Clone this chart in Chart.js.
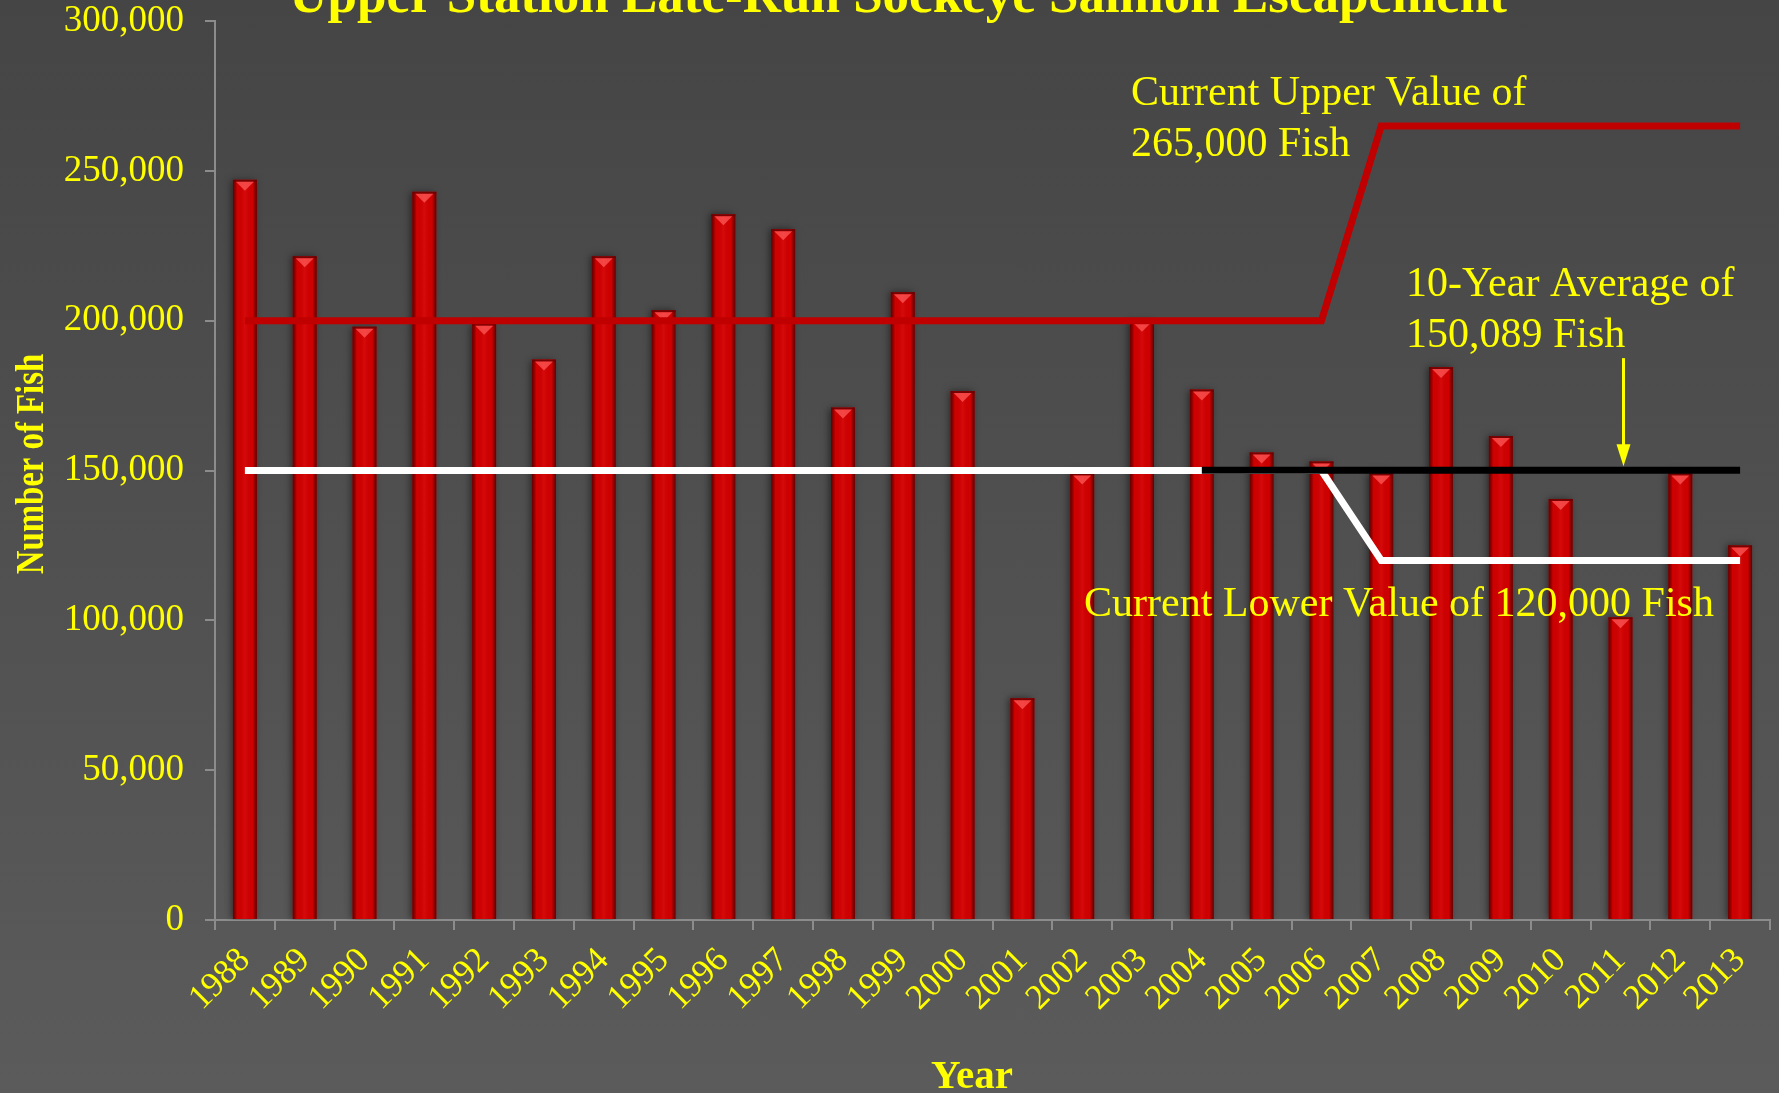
<!DOCTYPE html>
<html>
<head>
<meta charset="utf-8">
<script src="https://cdn.jsdelivr.net/npm/chart.js@4.4.1/dist/chart.umd.min.js"></script>
<style>
  html, body { margin: 0; padding: 0; }
  body { width: 1779px; height: 1093px; overflow: hidden; background: linear-gradient(#454545, #5b5b5b); }
  #wrap { width: 1779px; height: 1093px; }
</style>
</head>
<body>
<div id="wrap"><canvas id="escChart" width="1779" height="1093"></canvas></div>
<script>
  const years = ['1988', '1989', '1990', '1991', '1992', '1993', '1994', '1995', '1996', '1997', '1998', '1999', '2000',
                 '2001', '2002', '2003', '2004', '2005', '2006', '2007', '2008', '2009', '2010', '2011', '2012', '2013'];
  const escapement = [247000, 221500, 198000, 243000, 199000, 187000, 221500, 203500, 235500, 230500, 171000, 209500, 176500,
                      74000, 149000, 200000, 177000, 156000, 153000, 149000, 184500, 161500, 140500, 101000, 149000, 125000];
  const upperGoal = [200000, 200000, 200000, 200000, 200000, 200000, 200000, 200000, 200000, 200000, 200000, 200000, 200000,
                     200000, 200000, 200000, 200000, 200000, 200000, 265000, 265000, 265000, 265000, 265000, 265000, 265000];
  const lowerGoal = [150000, 150000, 150000, 150000, 150000, 150000, 150000, 150000, 150000, 150000, 150000, 150000, 150000,
                     150000, 150000, 150000, 150000, 150000, 150000, 120000, 120000, 120000, 120000, 120000, 120000, 120000];
  const tenYearAvg = [null, null, null, null, null, null, null, null, null, null, null, null, null,
                      null, null, null, 150089, 150089, 150089, 150089, 150089, 150089, 150089, 150089, 150089, 150089];
  const yTicks = [0, 50000, 100000, 150000, 200000, 250000, 300000];

  const yellow = '#ffff00';
  const axisGray = '#8c8c8c';
  const serif = '"Liberation Serif", "Times New Roman", serif';

  // shading + glossy caps on the bars, and all the free text
  const decor = {
    id: 'decor',
    beforeDatasetDraw(chart, args) {
      if (args.meta.type !== 'bar') return;
      const ctx = chart.ctx;
      ctx.save();
      ctx.shadowColor = 'rgba(0,0,0,0.5)';
      ctx.shadowBlur = 7;
      ctx.shadowOffsetX = -2;
    },
    afterDatasetDraw(chart, args) {
      if (args.meta.type !== 'bar') return;
      const ctx = chart.ctx;
      ctx.restore();
      args.meta.data.forEach(el => {
        const p = el.getProps(['x', 'y', 'base', 'width'], true);
        const l = p.x - p.width / 2, r = p.x + p.width / 2;
        const g = ctx.createLinearGradient(l, 0, r, 0);
        g.addColorStop(0, 'rgba(70,0,0,0.75)');
        g.addColorStop(0.18, 'rgba(0,0,0,0)');
        g.addColorStop(0.5, 'rgba(255,80,80,0.12)');
        g.addColorStop(0.82, 'rgba(0,0,0,0)');
        g.addColorStop(1, 'rgba(70,0,0,0.75)');
        ctx.save();
        ctx.fillStyle = g;
        ctx.fillRect(l, p.y, p.width, p.base - p.y);
        ctx.fillStyle = 'rgba(110,0,0,0.9)';
        ctx.fillRect(l, p.y, p.width, 2);
        ctx.beginPath();
        ctx.moveTo(l + 3, p.y + 2);
        ctx.lineTo(r - 3, p.y + 2);
        ctx.lineTo(p.x, p.y + 11);
        ctx.closePath();
        ctx.fillStyle = 'rgba(255,90,90,0.75)';
        ctx.fill();
        ctx.restore();
      });
    },
    afterDraw(chart) {
      const ctx = chart.ctx;
      const xs = chart.scales.x, ys = chart.scales.y;
      ctx.save();
      ctx.fillStyle = yellow;
      ctx.textBaseline = 'alphabetic';

      ctx.font = 'bold 53px ' + serif;
      ctx.textAlign = 'center';
      ctx.fillText('Upper Station Late-Run Sockeye Salmon Escapement', 898, 12);

      ctx.font = 'bold 41px ' + serif;
      ctx.fillText('Year', 972, 1088);

      ctx.save();
      ctx.translate(42.5, 464);
      ctx.rotate(-Math.PI / 2);
      ctx.scale(0.82, 1);
      ctx.font = 'bold 40px ' + serif;
      ctx.fillText('Number of Fish', 0, 0);
      ctx.restore();

      ctx.font = '42px ' + serif;
      ctx.textAlign = 'left';
      ctx.fillText('Current Upper Value of', 1131, 105);
      ctx.fillText('265,000 Fish', 1131, 156);
      ctx.fillText('10-Year Average of', 1406, 296);
      ctx.fillText('150,089 Fish', 1406, 347);
      ctx.fillText('Current Lower Value of 120,000 Fish', 1084, 616);

      // arrow pointing at the average line
      const ax = xs.getPixelForValue(23) + 3;
      const aTop = ys.getPixelForValue(187500);
      const aTip = ys.getPixelForValue(tenYearAvg[25]) - 4;
      ctx.strokeStyle = yellow;
      ctx.lineWidth = 3;
      ctx.beginPath();
      ctx.moveTo(ax, aTop);
      ctx.lineTo(ax, aTip - 18);
      ctx.stroke();
      ctx.beginPath();
      ctx.moveTo(ax - 7, aTip - 22);
      ctx.lineTo(ax + 7, aTip - 22);
      ctx.lineTo(ax, aTip);
      ctx.closePath();
      ctx.fill();
      ctx.restore();
    }
  };

  new Chart(document.getElementById('escChart'), {
    data: {
      labels: years,
      datasets: [
        {
          type: 'line',
          label: 'Current upper goal',
          data: upperGoal,
          borderColor: '#c00000',
          borderWidth: 7,
          pointRadius: 0,
          tension: 0,
          order: 1
        },
        {
          type: 'line',
          label: '10-year average',
          data: tenYearAvg,
          borderColor: '#000000',
          borderWidth: 7,
          pointRadius: 0,
          tension: 0,
          order: 2
        },
        {
          type: 'line',
          label: 'Current lower goal',
          data: lowerGoal,
          borderColor: '#ffffff',
          borderWidth: 7,
          pointRadius: 0,
          tension: 0,
          order: 3
        },
        {
          type: 'bar',
          label: 'Escapement',
          data: escapement,
          backgroundColor: '#d10000',
          borderWidth: 0,
          categoryPercentage: 1,
          barPercentage: 0.4,
          order: 10
        }
      ]
    },
    options: {
      responsive: false,
      animation: false,
      devicePixelRatio: 1,
      layout: { padding: { top: 21, right: 9, left: 0, bottom: 0 } },
      plugins: {
        legend: { display: false },
        tooltip: { enabled: false }
      },
      scales: {
        x: {
          grid: { drawOnChartArea: false, drawTicks: true, tickLength: 10, color: axisGray, lineWidth: 2, offset: true },
          border: { display: true, color: axisGray, width: 2 },
          ticks: {
            color: yellow,
            font: { family: serif, size: 35 },
            minRotation: 45,
            maxRotation: 45,
            autoSkip: false,
            padding: 10
          },
          afterFit: s => {
            s.height = 173;
            s.paddingLeft = 0;
            s.paddingRight = 0;
          }
        },
        y: {
          min: 0,
          max: 300000,
          afterBuildTicks: s => { s.ticks = yTicks.map(v => ({ value: v })); },
          grid: { drawOnChartArea: false, drawTicks: true, tickLength: 10, color: axisGray, lineWidth: 2 },
          border: { display: true, color: axisGray, width: 2 },
          ticks: {
            color: yellow,
            font: { family: serif, size: 37 },
            padding: 21,
            callback: v => v.toLocaleString('en-US')
          },
          afterFit: s => {
            s.width = 215;
            s.paddingTop = 0;
            s.paddingBottom = 0;
          }
        }
      }
    },
    plugins: [decor]
  });
</script>
</body>
</html>
